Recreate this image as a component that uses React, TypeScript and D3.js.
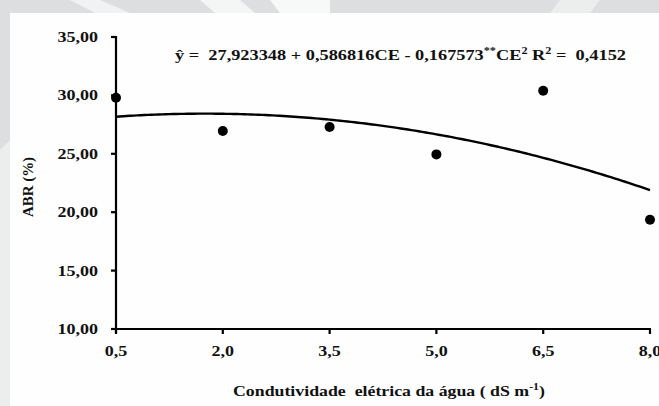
import React from "react";
import * as d3 from "d3";

// measured values (ABR %) by electrical conductivity of water
const ceLevels = [0.5, 2.0, 3.5, 5.0, 6.5, 8.0];
const abrValues = [29.8, 26.95, 27.3, 24.95, 30.4, 19.35];
const xTicks = [0.5, 2.0, 3.5, 5.0, 6.5, 8.0];
const yTicks = [10, 15, 20, 25, 30, 35];
// fitted polynomial: y = b0 + b1*CE + b2*CE^2
const coefs = [27.923348, 0.586816, -0.167573];

const W = 659;
const H = 406;
const FONT = "'Liberation Serif', 'Times New Roman', serif";
const SX = 1.2; // horizontal stretch seen in the source image

const fmtX = (v: number) => v.toFixed(1).replace(".", ",");
const fmtY = (v: number) => v.toFixed(2).replace(".", ",");

export default function App() {
  const x = d3.scaleLinear().domain([0.5, 8]).range([116, 650]);
  const y = d3.scaleLinear().domain([10, 35]).range([329, 37]);

  const fitX = d3.range(0.5, 8.0001, 0.05);
  const fitLine = d3
    .line<number>()
    .x((d) => x(d))
    .y((d) => y(coefs[0] + coefs[1] * d + coefs[2] * d * d))(fitX);

  const x0 = x(0.5);
  const yBase = y(10);

  return (
    <div style={{ position: "fixed", left: 0, top: 0 }}>
      <svg width={W} height={H} style={{ display: "block" }}>
        {/* watermark-ish backdrop */}
        <rect x={0} y={0} width={W} height={H} fill="#dcdedf" />
        <polygon points="70,0 100,0 130,13 95,13" fill="#f1f2f3" />
        <polygon points="200,0 240,0 255,13 215,13" fill="#f4f5f5" />
        <polygon points="270,0 330,0 330,13 280,13" fill="#f7f8f8" />
        <polygon points="560,0 600,0 590,13 550,13" fill="#eceeee" />
        <polygon points="0,150 10,140 10,406 0,406" fill="#eceeee" />
        <rect x={10} y={13} width={W - 10} height={H - 13} fill="#fefefe" />

        {/* axes */}
        <g stroke="#000" strokeWidth={2.2} fill="none">
          <line x1={x0} x2={x0} y1={y(35) - 1} y2={yBase + 4} />
          <line x1={x0 - 1} x2={x(8) + 1} y1={yBase} y2={yBase} />
          {yTicks.map((t) => (
            <line key={"yt" + t} x1={x0 - 5} x2={x0} y1={y(t)} y2={y(t)} />
          ))}
          {xTicks.map((t) => (
            <line key={"xt" + t} x1={x(t)} x2={x(t)} y1={yBase} y2={yBase + 5} />
          ))}
        </g>

        {/* tick labels */}
        <g fontFamily={FONT} fontWeight="bold" fontSize={15} fill="#111">
          {yTicks.map((t) => (
            <text
              key={"yl" + t}
              textAnchor="end"
              transform={`translate(98,${y(t) + 5}) scale(${SX},1)`}
            >
              {fmtY(t)}
            </text>
          ))}
          {xTicks.map((t) => (
            <text
              key={"xl" + t}
              textAnchor="middle"
              transform={`translate(${x(t)},${yBase + 27}) scale(${SX},1)`}
            >
              {fmtX(t)}
            </text>
          ))}
        </g>

        {/* fitted curve */}
        <path d={fitLine ?? ""} fill="none" stroke="#000" strokeWidth={2.4} />

        {/* observed points */}
        {ceLevels.map((c, i) => (
          <circle key={"p" + c} cx={x(c)} cy={y(abrValues[i])} r={5} fill="#000" />
        ))}

        {/* equation */}
        <text
          x={175}
          y={60}
          fontFamily={FONT}
          fontWeight="bold"
          fontSize={15}
          fill="#111"
          textLength={451}
          lengthAdjust="spacingAndGlyphs"
          xmlSpace="preserve"
        >
          ŷ =  27,923348 + 0,586816CE - 0,167573
          <tspan dy={-6} fontSize={10}>**</tspan>
          <tspan dy={6}>CE</tspan>
          <tspan dy={-6} fontSize={10}>2</tspan>
          <tspan dy={6}> R</tspan>
          <tspan dy={-6} fontSize={10}>2</tspan>
          <tspan dy={6}> =  0,4152</tspan>
        </text>

        {/* axis titles */}
        <text
          transform="translate(33,187) rotate(-90)"
          textAnchor="middle"
          fontFamily={FONT}
          fontWeight="bold"
          fontSize={15}
          fill="#111"
          textLength={60}
          lengthAdjust="spacingAndGlyphs"
        >
          ABR (%)
        </text>
        <text
          x={233}
          y={396}
          fontFamily={FONT}
          fontWeight="bold"
          fontSize={15}
          fill="#111"
          textLength={312}
          lengthAdjust="spacingAndGlyphs"
          xmlSpace="preserve"
        >
          Condutividade  elétrica da água ( dS m
          <tspan dy={-6} fontSize={10}>-1</tspan>
          <tspan dy={6}>)</tspan>
        </text>
      </svg>
    </div>
  );
}
